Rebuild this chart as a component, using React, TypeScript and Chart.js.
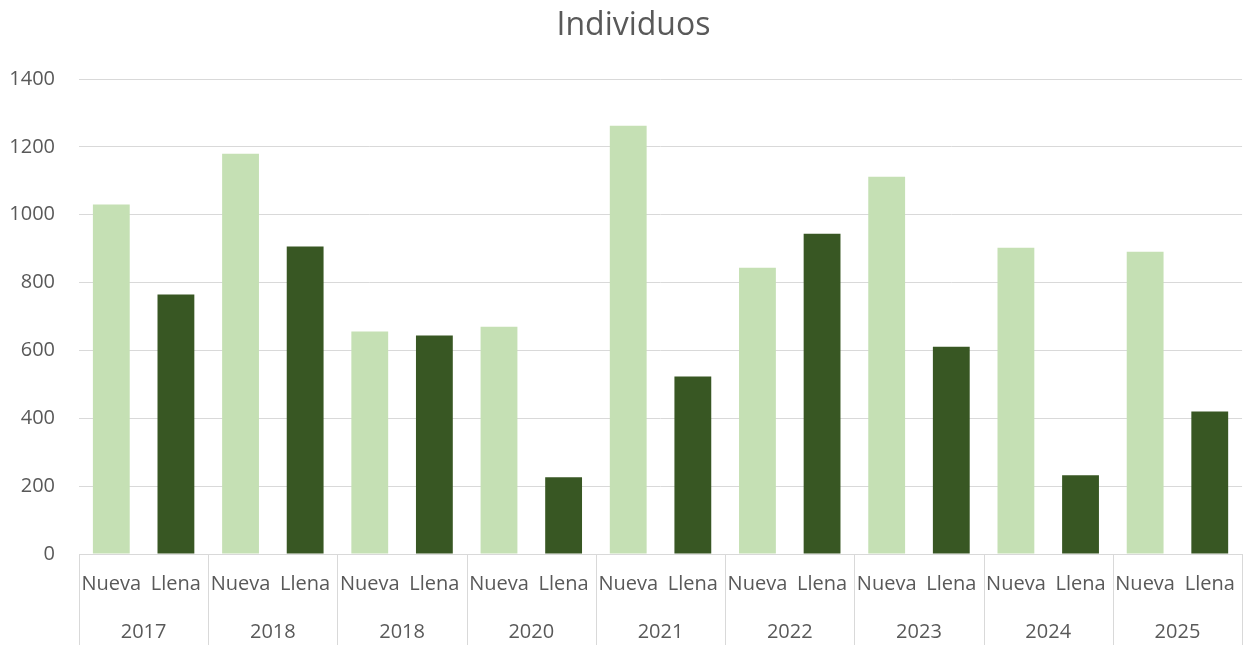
import React, { useEffect, useRef } from "react";
import { Chart, registerables } from "chart.js";

Chart.register(...registerables);

const title = "Individuos";
const years = ["2017", "2018", "2018", "2020", "2021", "2022", "2023", "2024", "2025"];
const kinds = ["Nueva", "Llena"];
const values = [1030, 765, 1180, 906, 656, 644, 670, 226, 1262, 523, 844, 944, 1112, 611, 903, 232, 891, 420];
const colorNueva = "#C5E0B4";
const colorLlena = "#385723";

const FONT = "'Open Sans', 'Noto Sans', sans-serif";
const TEXT = "#595959";
const GRID = "#D9D9D9";

export default function App() {
  const ref = useRef<HTMLCanvasElement | null>(null);

  useEffect(() => {
    if (!ref.current) return;
    const labels: string[] = [];
    const colors: string[] = [];
    years.forEach(() => {
      kinds.forEach((k, i) => {
        labels.push(k);
        colors.push(i === 0 ? colorNueva : colorLlena);
      });
    });

    const groupPlugin = {
      id: "groupAxis",
      afterDraw(chart: any) {
        const ctx = chart.ctx;
        const xs = chart.scales.x;
        const bottom = chart.height;
        const top = xs.top;
        const n = years.length;
        const w = (xs.right - xs.left) / n;
        ctx.save();
        ctx.strokeStyle = GRID;
        ctx.lineWidth = 1;
        for (let g = 0; g <= n; g++) {
          const x = Math.round(xs.left + g * w) + 0.5;
          ctx.beginPath();
          ctx.moveTo(x, top);
          ctx.lineTo(x, bottom);
          ctx.stroke();
        }
        ctx.fillStyle = TEXT;
        ctx.font = `20px ${FONT}`;
        ctx.textAlign = "center";
        ctx.textBaseline = "middle";
        years.forEach((y, g) => {
          const a = xs.getPixelForValue(g * 2);
          const b = xs.getPixelForValue(g * 2 + 1);
          ctx.fillText(y, (a + b) / 2, 632);
        });
        // chart title
        ctx.font = `32px ${FONT}`;
        ctx.fillText(title, chart.width / 2 + 7, 26);
        ctx.restore();
      },
    };

    const chart = new Chart(ref.current, {
      type: "bar",
      data: {
        labels,
        datasets: [
          {
            data: values,
            backgroundColor: colors,
            barPercentage: 0.57,
            categoryPercentage: 1,
          },
        ],
      },
      options: {
        animation: false,
        responsive: false,
        maintainAspectRatio: false,
        layout: { padding: { left: 0, right: 7, top: 79, bottom: 0 } },
        plugins: {
          legend: { display: false },
          tooltip: { enabled: false },
          title: { display: false },
        },
        scales: {
          x: {
            grid: { display: false, drawTicks: false },
            border: { display: true, color: GRID },
            ticks: {
              color: TEXT,
              font: { family: FONT, size: 20 },
              padding: 18,
              maxRotation: 0,
              autoSkip: false,
            },
            afterFit(scale: any) {
              scale.height = 91;
            },
          },
          y: {
            min: 0,
            max: 1400,
            grid: { color: GRID, drawTicks: false },
            border: { display: false },
            ticks: {
              stepSize: 200,
              color: TEXT,
              font: { family: FONT, size: 20 },
              padding: 24,
              callback: (v: any) => String(v),
            },
            afterFit(scale: any) {
              scale.width = 79;
            },
          },
        },
      },
      plugins: [groupPlugin],
    });
    return () => chart.destroy();
  }, []);

  return (
    <div style={{ position: "fixed", left: 0, top: 0, width: 1253, height: 645, background: "#fff" }}>
      <canvas ref={ref} width={1253} height={645} style={{ display: "block" }} />
    </div>
  );
}
